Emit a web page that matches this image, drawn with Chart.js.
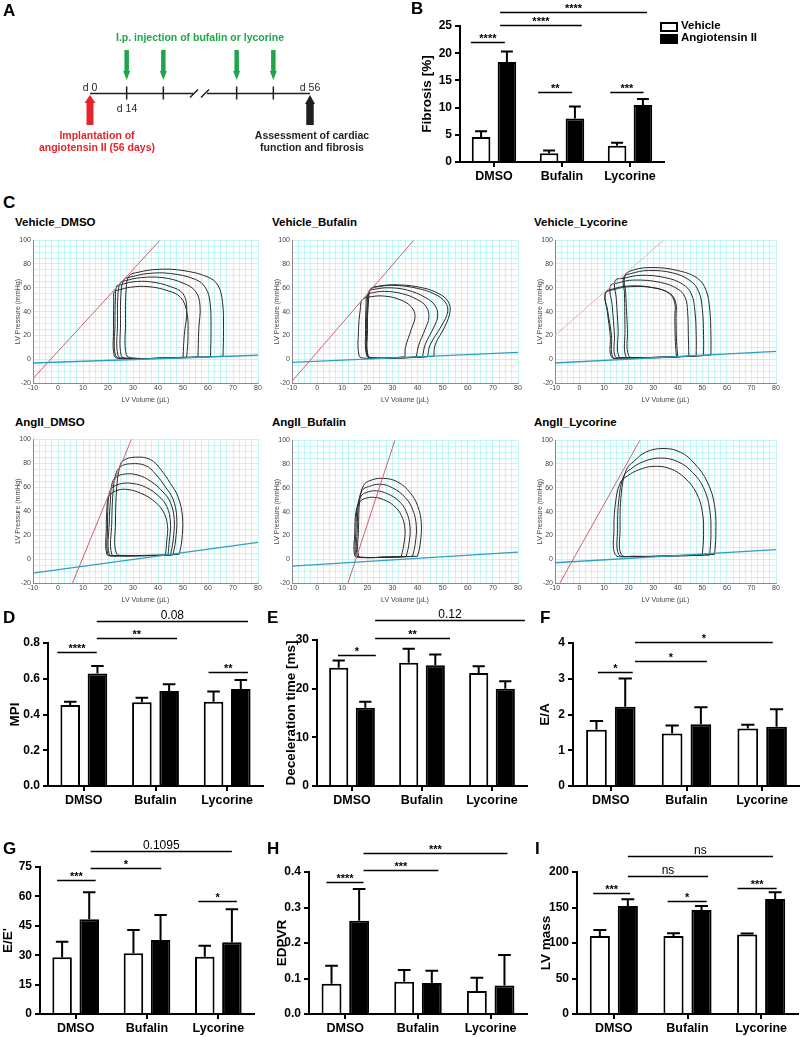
<!DOCTYPE html>
<html lang="en">
<head>
<meta charset="UTF-8">
<title>Bufalin / lycorine – cardiac function</title>
<style>
  body { margin: 0; background: #fff; }
  #fig { position: relative; width: 800px; height: 1037px; overflow: hidden; font-family: "Liberation Sans", Arial, sans-serif; color: #000; }
  .t { position: absolute; white-space: nowrap; line-height: 1; }
  canvas { position: absolute; }
</style>
</head>
<body>
<div id="fig"></div>

<script src="https://cdn.jsdelivr.net/npm/chart.js"></script>
<script>
// ---------- data ----------
const groups = ['DMSO', 'Bufalin', 'Lycorine'];
const seriesNames = ['Vehicle', 'Angiotensin II'];

// A: timeline slots (evenly spaced on the drawing, break at slot 3)
const timelineDays = ['d 0', 'd 14', '', '', '', '', 'd 56'];
const injectionSlots = [1, 2, 4, 5];
const breakSlot = 3;

// B: fibrosis [%]
const fibVeh = [4.6, 1.6, 3.0];
const fibVehErr = [1.05, 0.5, 0.55];
const fibAng = [18.4, 8.0, 10.5];
const fibAngErr = [1.9, 2.2, 1.1];
const fibSig = [[-0.34, 0.16, 22.1, '****'], [0.09, 1.29, 25.2, '****'], [0.09, 2.25, 27.6, '****'],
                [0.65, 1.15, 12.9, '**'], [1.71, 2.2, 12.9, '***']];

// D: MPI
const mpiVeh = [0.453, 0.468, 0.472];
const mpiVehErr = [0.019, 0.026, 0.056];
const mpiAng = [0.63, 0.531, 0.543];
const mpiAngErr = [0.041, 0.038, 0.05];
const mpiSig = [[-0.37, 0.18, 0.75, '****'], [1.74, 2.29, 0.64, '**'], [0.18, 1.3, 0.828, '**'], [0.18, 2.29, 0.923, '0.08']];

// E: deceleration time [ms]
const decVeh = [24.3, 25.3, 23.2];
const decVehErr = [1.5, 2.9, 1.4];
const decAng = [16.1, 24.8, 20.0];
const decAngErr = [1.2, 2.2, 1.5];
const decSig = [[-0.2, 0.34, 27, '*'], [0.33, 1.4, 30.5, '**'], [0.33, 2.47, 34.2, '0.12']];

// F: E/A
const eaVeh = [1.57, 1.47, 1.61];
const eaVehErr = [0.25, 0.22, 0.1];
const eaAng = [2.22, 1.73, 1.66];
const eaAngErr = [0.79, 0.47, 0.49];
const eaSig = [[-0.17, 0.29, 3.19, '*'], [0.32, 1.27, 3.5, '*'], [0.32, 2.14, 4.03, '*']];

// G: E/E'
const eeVeh = [28.9, 31.0, 29.2];
const eeVehErr = [8.0, 11.9, 5.6];
const eeAng = [48.3, 37.8, 36.6];
const eeAngErr = [13.8, 12.7, 16.8];
const eeSig = [[-0.26, 0.28, 68.4, '***'], [0.21, 1.2, 74.5, '*'], [0.21, 2.19, 83.2, '0.1095'], [1.72, 2.26, 57.7, '*']];

// H: EDPVR
const edVeh = [0.085, 0.091, 0.065];
const edVehErr = [0.051, 0.033, 0.037];
const edAng = [0.263, 0.087, 0.08];
const edAngErr = [0.089, 0.035, 0.086];
const edSig = [[-0.26, 0.25, 0.372, '****'], [0.25, 1.28, 0.406, '***'], [0.25, 2.23, 0.453, '***']];

// I: LV mass
const lvVeh = [110, 110, 112];
const lvVehErr = [8.4, 3.6, 1.5];
const lvAng = [152, 146.5, 162];
const lvAngErr = [9.5, 5.5, 9.4];
const lvSig = [[-0.28, 0.22, 171, '***'], [0.73, 1.26, 159, '*'], [1.68, 2.21, 177, '***'],
               [0.19, 1.28, 193.7, 'ns'], [0.19, 2.16, 222.5, 'ns']];

// C: pressure-volume loops [volume µL, pressure mmHg]
const vdLoops = [
  [[66,2.5],[66.2,25],[65.8,48],[64,62],[60,69],[50,74.5],[40,75.5],[32,73],[28.5,70],[27.3,60],[27,30],[27.3,4],[30,1],[45,1],[66,2.5]],
  [[61,2],[61.2,25],[60.8,48],[59,60],[55,67],[45,72],[36,72],[29,69],[26.5,67],[25.3,58],[25,30],[25.3,3],[28,0.8],[45,1],[61,2]],
  [[56,2],[56.3,25],[56.8,45],[55,57],[50,64],[42,68.5],[33,68.5],[27,66],[25,64.5],[24,55],[23.8,30],[24,3],[27,0.8],[45,1],[56,2]],
  [[50,1.5],[50.5,20],[51.5,42],[50,55],[45,61],[37,65],[30,65],[25,62.5],[23.5,61.5],[23,52],[22.8,30],[23,3],[26,0.5],[40,0.8],[50,1.5]],
  [[51.5,1.8],[52,20],[51.5,40],[49,52],[44,57.5],[36,61],[29,60.5],[24,58],[22.5,57],[22.3,48],[22.2,25],[22.5,3],[25,0.5],[40,0.8],[51.5,1.8]]
];
const vdEspvr = [[-10, -16.3], [40.8, 100]];
const vdEdpvr = [[-10, -3.2], [80, 3.3]];

const vbLoops = [
  [[46.5,2.5],[47,12],[51,28],[53,41],[52,49],[48.5,55],[42,60],[32,62.5],[25,61.5],[21.5,59],[20.5,50],[20,25],[20.3,3],[23,1],[35,1.3],[46.5,2.5]],
  [[44,2],[45,12],[49.5,28],[52,40],[51,48],[47,54.5],[40,59.5],[31,62],[24.5,61],[21,58.5],[20.3,48],[20,25],[20.2,3],[23,1],[35,1.2],[44,2]],
  [[42,2],[43,12],[46.5,27],[48,36],[47,45],[43,52],[36,58],[29,60],[23.5,59],[20.8,57],[20,48],[19.7,25],[20,3],[22,1],[35,1.2],[42,2]],
  [[39.5,2],[40.5,12],[43,25],[44.5,35],[43.5,44],[40,50],[34,55],[27,57],[22.5,56],[20,54],[19.5,45],[19.3,25],[19.7,3],[22,1],[32,1.1],[39.5,2]],
  [[35,2],[35.2,10],[37.5,25],[39,36],[37.5,44],[33,50],[27,53],[21.5,52.5],[18,50],[17.2,42],[16.5,25],[16.7,3],[19,0.8],[28,1],[35,2]]
];
const vbEspvr = [[-10, -18.6], [38.5, 100]];
const vbEdpvr = [[-10, -2.7], [80, 5.7]];

const vlLoops = [
  [[53.5,3.5],[53.5,20],[53,42],[51.5,58],[48,68],[40,74.5],[30,77],[22,75],[18.5,70],[18.8,55],[19.5,25],[20,3],[24,1.5],[40,2],[53.5,3.5]],
  [[50.5,3],[50.5,20],[50,42],[48.5,57],[45,66],[38,72.5],[28,74.5],[21,72],[18,69],[18.3,55],[18.5,25],[18.8,2.5],[22,1.3],[38,2],[50.5,3]],
  [[47.5,2.5],[47.5,20],[47,40],[45.5,55],[42,63],[35,68.5],[25,70.5],[18,68],[14.5,66],[15,50],[15.7,25],[16,2.5],[20,1.3],[35,1.8],[47.5,2.5]],
  [[44.5,2.5],[44.3,20],[44,40],[43,52],[40,59],[33,64.5],[22,66.5],[15.5,64],[12.5,61.5],[13.3,45],[14.2,20],[14.5,2.5],[18,1.2],[32,1.6],[44.5,2.5]],
  [[39.5,1.5],[39,15],[38.8,35],[38.7,48],[36,56],[29,60.5],[20,61.5],[13.5,59],[10.5,55.5],[11.3,40],[12.5,20],[13,2],[17,1],[30,1.2],[39.5,1.5]],
  [[40,1.8],[39.5,15],[39.3,35],[39.2,47],[37,55],[30,60],[21,61],[14,58.5],[10.5,55],[11.5,40],[13,20],[13.5,2],[17,1.2],[30,1.3],[40,1.8]]
];
const vlEspvr = [[-10, 20.1], [34.2, 100]];
const vlEdpvr = [[-10, -3.2], [80, 6.6]];

const adLoops = [
  [[48.5,4],[49.5,15],[49.8,35],[48,52],[45,63],[41,75],[37,83],[31,85],[26,82],[24.5,75],[23.5,60],[23,30],[23.3,5],[27,3],[40,3],[48.5,4]],
  [[46,3.5],[47,15],[47.5,35],[46,50],[43,60],[39,71],[35,78],[29,79.5],[25,77],[23,70],[22,55],[21.5,30],[21.5,4],[25,2.8],[38,3],[46,3.5]],
  [[45,3.2],[46,15],[46.5,33],[45,47],[42,56],[37,65],[32,70],[27,71],[23,68],[21.5,62],[21,50],[20.5,30],[20.5,4],[24,2.8],[36,3],[45,3.2]],
  [[44,3.2],[44.5,15],[45,30],[43.5,44],[40,53],[35,60],[30,63],[25.5,63],[22,60],[20.5,55],[20,45],[19.8,25],[20,4],[23,2.8],[35,3],[44,3.2]],
  [[43,3],[43.5,15],[43.8,28],[42,40],[38,49],[33,55],[28,58],[24,57.5],[21,54],[20,50],[19.5,40],[19.3,25],[19.5,4],[22,2.8],[34,3],[43,3]]
];
const adEspvr = [[5.8, -20], [29.4, 100]];
const adEdpvr = [[-10, -11.7], [80, 13.9]];

const abLoops = [
  [[40,2.5],[41,12],[41.5,30],[40,45],[37,56],[32,65],[26,68],[21,66],[18.5,62],[17,50],[16.5,25],[16.5,3],[19,1.5],[30,1.8],[40,2.5]],
  [[38,2.3],[39,12],[39.5,28],[38,42],[35,52],[30,60],[25,63],[20.5,61],[18,58],[16.5,47],[16,25],[16,3],[18.5,1.5],[28,1.8],[38,2.3]],
  [[35.5,2.2],[36.5,12],[37,27],[35.5,40],[32.5,49],[28,55],[23.5,57.5],[19.5,56],[17.5,53],[16,44],[15.5,25],[15.5,3],[18,1.5],[27,1.7],[35.5,2.2]],
  [[33.5,2],[34.5,12],[35,25],[33.5,37],[30.5,45],[26.5,50],[22.5,52],[19,51],[17,48],[15.5,40],[15,22],[15,3],[17.5,1.4],[26,1.6],[33.5,2]]
];
const abEspvr = [[12.3, -20], [31, 100]];
const abEdpvr = [[-10, -5.9], [80, 5.9]];

const alLoops = [
  [[55,4],[55.5,20],[55,45],[52,65],[47,80],[41,90],[34,93],[27,90],[22,82],[19,75],[17,55],[16.5,25],[17,4],[22,2.5],[40,3],[55,4]],
  [[53,3.5],[53.5,20],[53,42],[50.5,60],[46,73],[40,82],[33,85],[26,82],[21,76],[18,70],[16,50],[15.5,25],[16,4],[21,2.3],[38,2.8],[53,3.5]],
  [[50,3.2],[50.5,20],[50,40],[47.5,56],[43,68],[37,76],[30,78],[24,75],[19.5,70],[16.5,64],[14.5,45],[14,25],[14.5,4],[19,2.2],[35,2.6],[50,3.2]]
];
const alEspvr = [[-8, -20], [24.6, 100]];
const alEdpvr = [[-10, -3], [80, 8]];

// ---------- helpers ----------
const fig = document.getElementById('fig');
const FONT = '"Liberation Sans", Arial, sans-serif';
Chart.defaults.font.family = FONT;

function txt(s, x, y, css, align) {
  const d = document.createElement('div');
  d.className = 't';
  d.textContent = s;
  d.style.cssText = `left:${x}px;top:${y}px;${css};transform:translate(${align === 'c' ? '-50%' : '0'},-50%)`;
  fig.appendChild(d);
}

function mkCanvas(left, top, w, h) {
  const c = document.createElement('canvas');
  c.width = w; c.height = h;
  c.style.left = left + 'px'; c.style.top = top + 'px';
  c.style.width = w + 'px'; c.style.height = h + 'px';
  fig.appendChild(c);
  return c;
}

// ---------- A: timeline ----------
function arrow(ctx, x, yTail, yTip, shaftW, headW, headL, color) {
  const yHead = yTip - Math.sign(yTip - yTail) * headL;
  ctx.fillStyle = color;
  ctx.beginPath();
  ctx.moveTo(x - shaftW / 2, yTail);
  ctx.lineTo(x - shaftW / 2, yHead);
  ctx.lineTo(x - headW / 2, yHead);
  ctx.lineTo(x, yTip);
  ctx.lineTo(x + headW / 2, yHead);
  ctx.lineTo(x + shaftW / 2, yHead);
  ctx.lineTo(x + shaftW / 2, yTail);
  ctx.closePath();
  ctx.fill();
}

const timelinePlugin = {
  id: 'timeline',
  afterDraw(chart) {
    const { ctx, scales: { x } } = chart;
    const px = s => x.getPixelForValue(s);
    const last = timelineDays.length - 1;
    const yl = 93.5;
    ctx.save();
    ctx.strokeStyle = '#231f20';
    ctx.lineWidth = 1.5;
    ctx.beginPath();
    ctx.moveTo(px(0), yl); ctx.lineTo(px(breakSlot) - 7, yl);
    ctx.moveTo(px(breakSlot) + 7, yl); ctx.lineTo(px(last), yl);
    ctx.moveTo(px(breakSlot) - 10, yl + 4); ctx.lineTo(px(breakSlot) - 2, yl - 4);
    ctx.moveTo(px(breakSlot) + 1, yl + 4); ctx.lineTo(px(breakSlot) + 9, yl - 4);
    injectionSlots.forEach(s => { ctx.moveTo(px(s), yl - 7); ctx.lineTo(px(s), yl + 6); });
    ctx.stroke();
    injectionSlots.forEach(s => arrow(ctx, px(s), 50, 80, 4.5, 7, 9, '#1fa64b'));
    arrow(ctx, px(0), 125, 95, 7, 11, 8, '#e5242b');
    arrow(ctx, px(last), 125, 95, 7.5, 10, 9, '#231f20');
    ctx.restore();
  }
};

new Chart(mkCanvas(0, 0, 400, 190), {
  type: 'scatter',
  data: { datasets: [] },
  options: {
    responsive: false, devicePixelRatio: 1, animation: false,
    layout: { padding: { left: 90, right: 90, top: 0, bottom: 0 } },
    scales: { x: { type: 'linear', min: 0, max: timelineDays.length - 1, display: false },
              y: { min: 0, max: 1, display: false } },
    plugins: { legend: { display: false }, tooltip: { enabled: false } }
  },
  plugins: [timelinePlugin]
});

// ---------- bar panels ----------
const sigPlugin = {
  id: 'sigMarks',
  afterDatasetsDraw(chart, args, o) {
    const { ctx, scales: { x, y } } = chart;
    ctx.save();
    ctx.strokeStyle = '#000';
    ctx.lineWidth = 2;
    o.errs.forEach((errs, d) => {
      chart.getDatasetMeta(d).data.forEach((bar, i) => {
        const v = chart.data.datasets[d].data[i];
        const y0 = y.getPixelForValue(v), y1 = y.getPixelForValue(v + errs[i]);
        const half = bar.width * 0.32;
        ctx.beginPath();
        ctx.moveTo(bar.x, y0); ctx.lineTo(bar.x, y1);
        ctx.moveTo(bar.x - half, y1); ctx.lineTo(bar.x + half, y1);
        ctx.stroke();
      });
    });
    ctx.lineWidth = 1.3;
    ctx.fillStyle = '#000';
    ctx.textAlign = 'center';
    ctx.textBaseline = 'alphabetic';
    o.sig.forEach(([a, b, v, label]) => {
      const x1 = x.getPixelForValue(a), x2 = x.getPixelForValue(b);
      const yy = Math.round(y.getPixelForValue(v)) + 0.5;
      ctx.beginPath(); ctx.moveTo(x1, yy); ctx.lineTo(x2, yy); ctx.stroke();
      const stars = /^\*+$/.test(label);
      ctx.font = (stars ? 'bold 11px ' : '12px ') + FONT;
      ctx.fillText(label, (x1 + x2) / 2, yy - (stars ? 1 : 3));
    });
    ctx.restore();
  }
};

function barPanel(box, titleX, title, vals, errs, yMax, yStep, dec, sig) {
  const left = Math.round(titleX - 9), topSpace = 40;
  const c = mkCanvas(left, box.t - topSpace, box.r - left + 6, box.b - box.t + topSpace + 22);
  const axisGrid = { drawOnChartArea: false, color: '#000', lineWidth: 2, tickLength: 5 };
  new Chart(c, {
    type: 'bar',
    data: {
      labels: groups,
      datasets: [
        { label: seriesNames[0], data: vals[0], backgroundColor: '#fff', borderColor: '#000', borderWidth: 2,
          categoryPercentage: 0.76, barPercentage: 0.72 },
        { label: seriesNames[1], data: vals[1], backgroundColor: '#000', borderColor: '#000', borderWidth: 2,
          categoryPercentage: 0.76, barPercentage: 0.72 }
      ]
    },
    options: {
      responsive: false, devicePixelRatio: 1, animation: false,
      layout: { padding: { left: 1, top: topSpace, right: 6, bottom: 0 } },
      scales: {
        x: {
          grid: { ...axisGrid, offset: false },
          border: { color: '#000', width: 2 },
          ticks: { color: '#000', font: { size: 12.5, weight: 'bold' }, padding: 2 },
          afterFit: s => { s.height = 22; }
        },
        y: {
          min: 0, max: yMax,
          grid: axisGrid,
          border: { color: '#000', width: 2 },
          ticks: { stepSize: yStep, color: '#000', font: { size: 12, weight: 'bold' }, padding: 3,
                   callback: v => v.toFixed(dec) },
          title: { display: true, text: title, color: '#000', font: { size: 13.5, weight: 'bold' }, padding: 0 },
          afterFit: s => { s.width = box.l - left - 1; }
        }
      },
      plugins: { legend: { display: false }, tooltip: { enabled: false }, sigMarks: { errs, sig } }
    },
    plugins: [sigPlugin]
  });
}

barPanel({ l: 460, t: 26, r: 664, b: 162 }, 427, 'Fibrosis [%]', [fibVeh, fibAng], [fibVehErr, fibAngErr], 25, 5, 0, fibSig);
barPanel({ l: 48, t: 643, r: 263, b: 786 }, 15, 'MPI', [mpiVeh, mpiAng], [mpiVehErr, mpiAngErr], 0.8, 0.2, 1, mpiSig);
barPanel({ l: 317, t: 640, r: 527, b: 786 }, 291, 'Deceleration time [ms]', [decVeh, decAng], [decVehErr, decAngErr], 30, 10, 0, decSig);
barPanel({ l: 573, t: 643, r: 800, b: 786 }, 545, 'E/A', [eaVeh, eaAng], [eaVehErr, eaAngErr], 4, 1, 0, eaSig);
barPanel({ l: 40, t: 867, r: 254, b: 1014 }, 8, "E/E'", [eeVeh, eeAng], [eeVehErr, eeAngErr], 75, 15, 0, eeSig);
barPanel({ l: 309, t: 872, r: 527, b: 1014 }, 282, 'EDPVR', [edVeh, edAng], [edVehErr, edAngErr], 0.4, 0.1, 1, edSig);
barPanel({ l: 577, t: 872, r: 798, b: 1014 }, 546, 'LV mass', [lvVeh, lvAng], [lvVehErr, lvAngErr], 200, 50, 0, lvSig);

// ---------- C: PV loops ----------
// fine graph-paper grid: one tick every 2.5 µL and every 5 mmHg
function gridTicks(min, max, step) {
  const t = [];
  for (let v = min; v <= max + 1e-9; v += step) t.push({ value: v });
  return t;
}

function pvPanel(box, loops, espvr, edpvr, espvrColor) {
  const left = box.l - 20, top = box.t - 6;
  const c = mkCanvas(left, top, box.r - box.l + 28, box.b - box.t + 27);
  const pts = a => a.map(([x, y]) => ({ x, y }));
  const datasets = [
    { data: pts(edpvr), borderColor: '#2aa3c0', borderWidth: 1.3, pointRadius: 0 },
    { data: pts(espvr), borderColor: espvrColor, borderWidth: 1, pointRadius: 0 }
  ];
  loops.forEach(l => datasets.push({ data: pts(l), borderColor: '#2a2a2a', borderWidth: 1, pointRadius: 0, tension: 0.4 }));
  const grid = { color: 'rgba(150,236,236,0.8)', lineWidth: 0.7, drawTicks: false };
  const tickFont = { size: 7 };
  new Chart(c, {
    type: 'line',
    data: { datasets },
    options: {
      responsive: false, devicePixelRatio: 1, animation: false,
      layout: { padding: { left: 1, top: 6, right: 8, bottom: 0 } },
      scales: {
        x: {
          type: 'linear', min: -10, max: 80,
          grid, border: { color: '#8a8a8a', width: 1 },
          afterBuildTicks: s => { s.ticks = gridTicks(-10, 80, 2.5); },
          ticks: { autoSkip: false, maxRotation: 0, padding: 1, color: '#444', font: tickFont,
                   callback: v => (v % 10 === 0 ? v : '') },
          title: { display: true, text: 'LV Volume (µL)', color: '#444', font: tickFont, padding: 0 },
          afterFit: s => { s.height = 21; }
        },
        y: {
          min: -20, max: 100,
          grid, border: { color: '#8a8a8a', width: 1 },
          afterBuildTicks: s => { s.ticks = gridTicks(-20, 100, 5); },
          ticks: { autoSkip: false, padding: 2, color: '#444', font: tickFont,
                   callback: v => (v % 20 === 0 ? v : '') },
          title: { display: true, text: 'LV Pressure (mmHg)', color: '#444', font: tickFont, padding: 0 },
          afterFit: s => { s.width = 19; }
        }
      },
      plugins: { legend: { display: false }, tooltip: { enabled: false } }
    }
  });
}

const red = '#d65f69', paleRed = '#e8b0b3';
pvPanel({ l: 33, t: 240, r: 258, b: 383 }, vdLoops, vdEspvr, vdEdpvr, red);
pvPanel({ l: 292, t: 240, r: 518, b: 383 }, vbLoops, vbEspvr, vbEdpvr, red);
pvPanel({ l: 555, t: 240, r: 776, b: 383 }, vlLoops, vlEspvr, vlEdpvr, paleRed);
pvPanel({ l: 33, t: 439, r: 258, b: 583 }, adLoops, adEspvr, adEdpvr, red);
pvPanel({ l: 292, t: 440, r: 518, b: 583 }, abLoops, abEspvr, abEdpvr, red);
pvPanel({ l: 555, t: 440, r: 776, b: 583 }, alLoops, alEspvr, alEdpvr, red);

// ---------- text ----------
const letter = 'font-weight:bold;font-size:17px';
[['A', 3, 10], ['B', 411, 8], ['C', 3, 202], ['D', 3, 617], ['E', 267, 617], ['F', 540, 617],
 ['G', 3, 848], ['H', 267, 848], ['I', 535, 848]].forEach(([s, x, y]) => txt(s, x, y, letter, 'l'));

const pvTitle = 'font-weight:bold;font-size:11.5px';
[['Vehicle_DMSO', 15, 223], ['Vehicle_Bufalin', 272, 223], ['Vehicle_Lycorine', 534, 223],
 ['AngII_DMSO', 15, 423], ['AngII_Bufalin', 272, 423], ['AngII_Lycorine', 534, 423]].forEach(([s, x, y]) => txt(s, x, y, pvTitle, 'l'));

txt('I.p. injection of bufalin or lycorine', 200, 37, 'font-weight:bold;font-size:10.5px;color:#1fa64b', 'c');
txt(timelineDays[0], 90, 87, 'font-size:10.5px;color:#231f20', 'c');
txt(timelineDays[1], 127, 108, 'font-size:10.5px;color:#231f20', 'c');
txt(timelineDays[6], 310, 87, 'font-size:10.5px;color:#231f20', 'c');
txt('Implantation of', 97, 135, 'font-weight:bold;font-size:10.5px;color:#e5242b', 'c');
txt('angiotensin II (56 days)', 97, 147, 'font-weight:bold;font-size:10.5px;color:#e5242b', 'c');
txt('Assessment of cardiac', 312, 135, 'font-weight:bold;font-size:10.5px;color:#231f20', 'c');
txt('function and fibrosis', 312, 147, 'font-weight:bold;font-size:10.5px;color:#231f20', 'c');

// B legend
function legendBox(x, y, fill) {
  const d = document.createElement('div');
  d.style.cssText = `position:absolute;left:${x}px;top:${y}px;width:14px;height:6px;border:2px solid #000;background:${fill}`;
  fig.appendChild(d);
}
legendBox(660, 22, '#fff');
legendBox(660, 34, '#000');
txt(seriesNames[0], 681, 26, 'font-weight:bold;font-size:11.5px', 'l');
txt(seriesNames[1], 681, 38, 'font-weight:bold;font-size:11.5px', 'l');
</script>
</body>
</html>
